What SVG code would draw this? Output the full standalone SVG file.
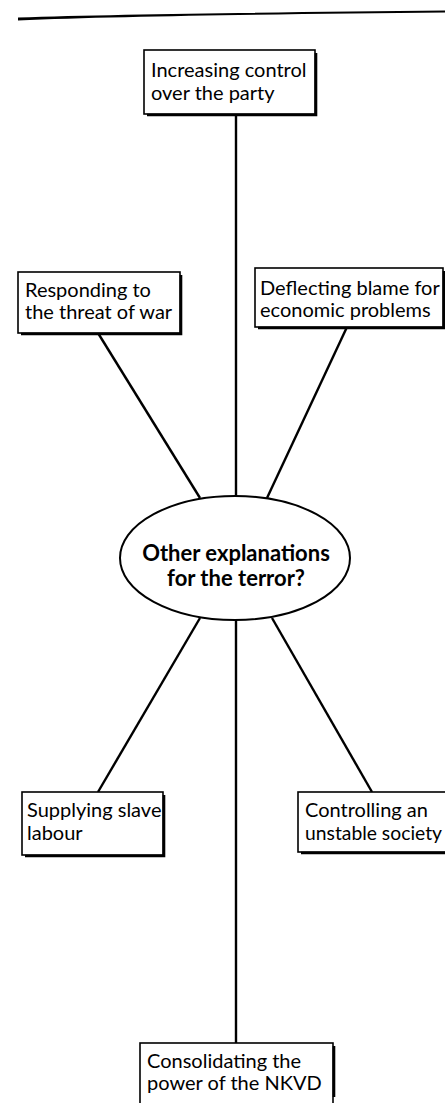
<svg xmlns="http://www.w3.org/2000/svg" width="445" height="1103" viewBox="0 0 445 1103">
<style>
.box{fill:#fff;stroke:#000;stroke-width:1.6}
.sh{fill:none;stroke:#000;stroke-width:2.6}
.t{font-family:Lato,"Liberation Sans",sans-serif;font-size:20px;fill:#000}
.tb{font-family:Lato,"Liberation Sans",sans-serif;font-size:22px;font-weight:700;fill:#000;text-anchor:middle}
.con{stroke:#000;stroke-width:2.4;fill:none}
</style>
<rect width="445" height="1103" fill="#fff"/>
<path d="M18,17.5 C120,14 300,12 445,10.5 L445,12.5 C300,14 120,16 18,20.5 Z" fill="#000"/>
<g id="connectors">
<line class="con" x1="236" y1="114" x2="236" y2="497"/>
<line class="con" x1="98" y1="333" x2="200" y2="498"/>
<line class="con" x1="347" y1="327" x2="267" y2="498"/>
<line class="con" x1="200" y1="618" x2="98" y2="792"/>
<line class="con" x1="236" y1="620" x2="236" y2="1043"/>
<line class="con" x1="272" y1="618" x2="372" y2="792"/>
</g>
<g id="center">
<ellipse cx="235" cy="558" rx="115" ry="62" fill="#fff" stroke="#000" stroke-width="2"/>
<text class="tb" x="236" y="561">Other explanations</text>
<text class="tb" x="236" y="586">for the terror?</text>
</g>
<g id="n1">
<rect class="box" x="144" y="50" width="171" height="64"/>
<polyline class="sh" points="316,53 316,115 147,115"/>
<text class="t" x="151" y="77">Increasing control</text>
<text class="t" x="151" y="100">over the party</text>
</g>
<g id="n2">
<rect class="box" x="18" y="272" width="162" height="61"/>
<polyline class="sh" points="181,275 181,334 21,334"/>
<text class="t" x="25" y="297">Responding to</text>
<text class="t" x="25" y="319">the threat of war</text>
</g>
<g id="n3">
<rect class="box" x="255" y="268" width="188" height="59"/>
<polyline class="sh" points="444,271 444,328 258,328"/>
<text class="t" x="260" y="295">Deflecting blame for</text>
<text class="t" x="260" y="317">economic problems</text>
</g>
<g id="n4">
<rect class="box" x="22" y="792" width="141" height="63"/>
<polyline class="sh" points="164,795 164,856 25,856"/>
<text class="t" x="27" y="817">Supplying slave</text>
<text class="t" x="27" y="840">labour</text>
</g>
<g id="n5">
<rect class="box" x="298" y="792" width="150" height="60"/>
<polyline class="sh" points="301,853 446,853"/>
<text class="t" x="305" y="817">Controlling an</text>
<text class="t" x="305" y="840" textLength="137" lengthAdjust="spacingAndGlyphs">unstable society</text>
</g>
<g id="n6">
<rect class="box" x="140" y="1043" width="193" height="70"/>
<polyline class="sh" points="334,1046 334,1097"/>
<text class="t" x="147" y="1068">Consolidating the</text>
<text class="t" x="147" y="1090">power of the NKVD</text>
</g>
</svg>
